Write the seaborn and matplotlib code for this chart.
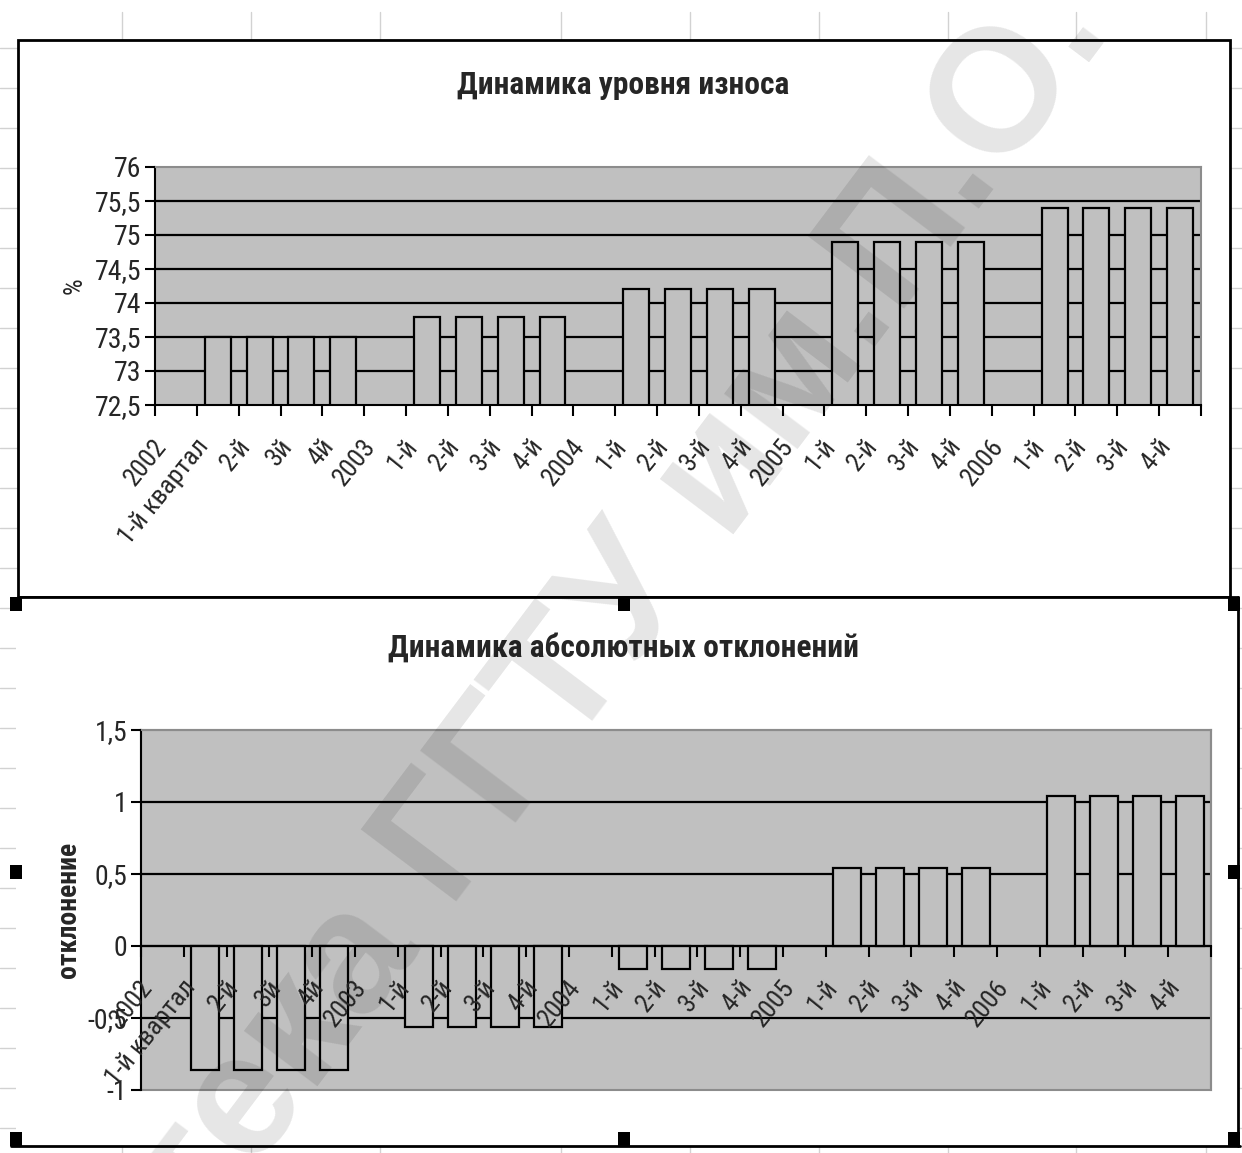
import numpy as np
import pandas as pd
import matplotlib
matplotlib.use("Agg")
import matplotlib.pyplot as plt
import matplotlib.transforms as mtransforms
from matplotlib.patches import Rectangle
from matplotlib.ticker import FuncFormatter
from matplotlib import font_manager
import seaborn as sns

# ---- data -------------------------------------------------------------
categories = ["2002", "1-й квартал", "2-й", "3й", "4й",
              "2003", "1-й", "2-й", "3-й", "4-й",
              "2004", "1-й", "2-й", "3-й", "4-й",
              "2005", "1-й", "2-й", "3-й", "4-й",
              "2006", "1-й", "2-й", "3-й", "4-й"]
# level of wear, %  (year rows carry no value)
wear = [np.nan, 73.5, 73.5, 73.5, 73.5,
        np.nan, 73.8, 73.8, 73.8, 73.8,
        np.nan, 74.2, 74.2, 74.2, 74.2,
        np.nan, 74.9, 74.9, 74.9, 74.9,
        np.nan, 75.4, 75.4, 75.4, 75.4]
# absolute deviation from the mean level
deviation = [np.nan, -0.86, -0.86, -0.86, -0.86,
             np.nan, -0.56, -0.56, -0.56, -0.56,
             np.nan, -0.16, -0.16, -0.16, -0.16,
             np.nan, 0.54, 0.54, 0.54, 0.54,
             np.nan, 1.04, 1.04, 1.04, 1.04]
wear_ticks = [72.5, 73, 73.5, 74, 74.5, 75, 75.5, 76]
dev_ticks = [-1, -0.5, 0, 0.5, 1, 1.5]

# ---- fonts ------------------------------------------------------------
sns.set_theme(style="white")
installed = {f.name for f in font_manager.fontManager.ttflist}
FONT = "Liberation Sans"
for cand in ["Liberation Sans Narrow", "Arial Narrow", "Roboto Condensed",
             "Open Sans Condensed", "DejaVu Sans Condensed"]:
    if cand in installed:
        FONT = cand
        break
plt.rcParams["font.family"] = [FONT, "DejaVu Sans"]
plt.rcParams["axes.unicode_minus"] = False

W, H = 1242, 1153
fig = plt.figure(figsize=(W / 100, H / 100), dpi=100)
fig.patch.set_facecolor("white")

# ---- spreadsheet background ------------------------------------------
bg = fig.add_axes([0, 0, 1, 1], zorder=-10)
bg.set_xlim(0, W)
bg.set_ylim(H, 0)
bg.axis("off")
grid_c = "#d2d2d2"
for x in [122, 251, 380, 561, 690, 819, 948, 1076, 1206]:
    bg.plot([x, x], [12, H], color=grid_c, lw=1, zorder=1)
for y in range(48, H, 40):
    bg.plot([0, W], [y, y], color=grid_c, lw=1, zorder=1)

# chart frames
bg.add_patch(Rectangle((18, 40), 1212, 557, facecolor="white",
                       edgecolor="black", lw=2, zorder=2))
bg.add_patch(Rectangle((16, 598), 1222, 548, facecolor="white",
                       edgecolor="none", zorder=2))
bg.plot([11, 1240], [1146, 1146], color="black", lw=2, zorder=3)
bg.plot([1238, 1238], [597, 1146], color="black", lw=2, zorder=3)
bg.plot([18, 1238], [597, 597], color="black", lw=2, zorder=3)
# selection handles
for hx in [16, 624, 1234]:
    for hy in [604, 872, 1139]:
        if hx == 624 and hy == 872:
            continue
        bg.add_patch(Rectangle((hx - 6, hy - 7), 12, 14, facecolor="black",
                               edgecolor="none", zorder=4))

PLOT_BG = "#c0c0c0"


def px_axes(x0, y0, x1, y1):
    return fig.add_axes([x0 / W, 1 - y1 / H, (x1 - x0) / W, (y1 - y0) / H])


def style_category_axis(ax, pad, dx, dy):
    n = len(categories)
    ax.set_xlim(-0.5, n - 0.5)
    ax.set_xticks(np.arange(-0.5, n, 1.0))
    ax.set_xticklabels([])
    ax.set_xticks(np.arange(n), minor=True)
    ax.set_xticklabels(categories, minor=True, rotation=51, ha="right",
                       va="center", rotation_mode="anchor", fontsize=19)
    ax.tick_params(axis="x", which="major", direction="out", length=8,
                   width=1.5, color="black", bottom=True)
    ax.tick_params(axis="x", which="minor", length=0, pad=pad)
    off = mtransforms.ScaledTranslation(dx / 100, dy / 100, fig.dpi_scale_trans)
    for lab in ax.get_xticklabels(minor=True):
        lab.set_transform(lab.get_transform() + off)
    ax.set_xlabel("")


def style_value_axis(ax, ticks, grid_vals):
    ax.set_facecolor(PLOT_BG)
    ax.set_axisbelow(False)
    ax.set_ylim(ticks[0], ticks[-1])
    ax.set_yticks(ticks)
    ax.yaxis.set_major_formatter(
        FuncFormatter(lambda v, p: f"{v:g}".replace(".", ",")))
    ax.tick_params(axis="y", direction="out", length=7, width=1.5,
                   color="black", left=True, labelsize=20, pad=3)
    for g in grid_vals:
        ax.axhline(g, color="black", lw=1.6, zorder=0.5)
    for s in ["top", "right"]:
        ax.spines[s].set_color("#8c8c8c")
        ax.spines[s].set_linewidth(1.5)
    ax.spines["left"].set_color("black")
    ax.spines["left"].set_linewidth(1.5)


# ---- top chart: level of wear ------------------------------------------
df_top = pd.DataFrame({"idx": np.arange(len(categories)), "value": wear})
ax1 = px_axes(155, 167, 1201, 405)
sns.barplot(data=df_top, x="idx", y="value", order=list(range(len(categories))),
            color=PLOT_BG, saturation=1, edgecolor="black", linewidth=1.6,
            width=0.62, errorbar=None, ax=ax1)
style_value_axis(ax1, wear_ticks, [73, 73.5, 74, 74.5, 75, 75.5])
ax1.spines["bottom"].set_color("black")
ax1.spines["bottom"].set_linewidth(1.5)
style_category_axis(ax1, pad=14, dx=-14, dy=-18)
ax1.set_ylabel("%", fontsize=19, labelpad=6)
fig.text(623 / W, 1 - 85 / H, "Динамика уровня износа", ha="center",
         va="center", fontsize=22.7, weight="bold")

# ---- bottom chart: absolute deviations ---------------------------------
df_bot = pd.DataFrame({"idx": np.arange(len(categories)), "value": deviation})
ax2 = px_axes(141, 730, 1211, 1090)
sns.barplot(data=df_bot, x="idx", y="value", order=list(range(len(categories))),
            color=PLOT_BG, saturation=1, edgecolor="black", linewidth=1.6,
            width=0.65, errorbar=None, ax=ax2)
style_value_axis(ax2, dev_ticks, [-0.5, 0, 0.5, 1])
ax2.spines["bottom"].set_position(("data", 0))
ax2.spines["bottom"].set_color("black")
ax2.spines["bottom"].set_linewidth(1.5)
ax2.patch.set_edgecolor("#8c8c8c")
ax2.patch.set_linewidth(1.5)
style_category_axis(ax2, pad=14, dx=-14, dy=-18)
ax2.set_ylabel("отклонение", fontsize=20, weight="bold", labelpad=4)
fig.text(623 / W, 1 - 648 / H, "Динамика абсолютных отклонений", ha="center",
         va="center", fontsize=22.7, weight="bold")

# ---- library watermark -------------------------------------------------
fig.text(1075 / W, 1 - 5 / H, "библиотека ГГТУ им.П.О.", rotation=53,
         ha="right", va="center", rotation_mode="anchor", fontsize=125,
         weight="bold", color="black", alpha=0.1, zorder=20,
         family=["Liberation Sans", "DejaVu Sans"])

fig.savefig("out.png", dpi=100, facecolor="white")
